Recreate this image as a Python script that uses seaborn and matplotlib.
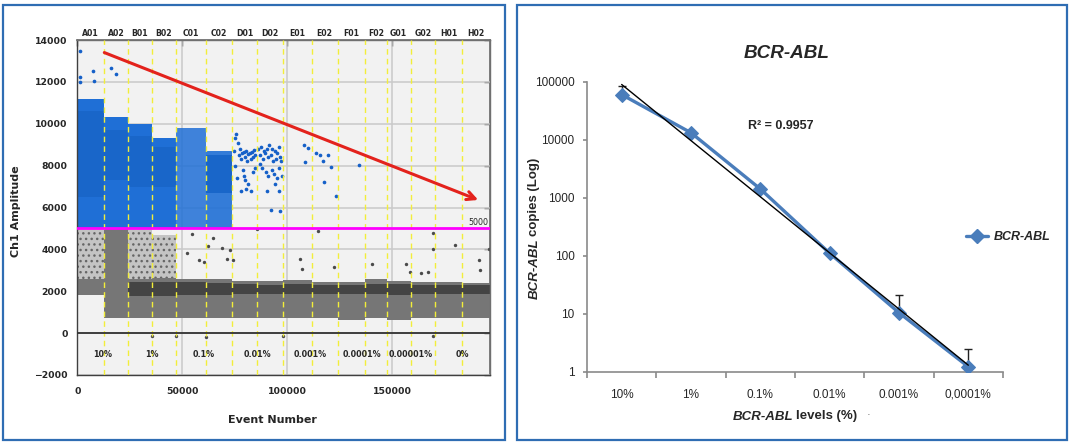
import numpy as np
import matplotlib
matplotlib.use("Agg")
import matplotlib.pyplot as plt
import seaborn as sns
from matplotlib.patches import Rectangle
from matplotlib.lines import Line2D
from matplotlib.ticker import NullLocator, FixedLocator, FixedFormatter

nan = np.nan

# ---------------- Left panel data (ddPCR droplet amplitude plot) ----------------
well_names = ['A01', 'A02', 'B01', 'B02', 'C01', 'C02', 'D01', 'D02',
              'E01', 'E02', 'F01', 'F02', 'G01', 'G02', 'H01', 'H02']
well_edges = [0, 12857, 24127, 35550, 46980, 61420, 73800, 85400, 97900,
              111570, 123950, 137000, 147300, 158700, 170300, 183100, 196500]
dilution_labels = ['10%', '1%', '0.1%', '0.01%', '0.001%', '0.0001%', '0.00001%', '0%']
threshold = 5000
threshold_label = '5000'

# dense positive droplet clouds (blue) per well
pos_low = [5000, 5000, 5000, 5000, 5000, 5000] + [nan] * 10
pos_high = [11200, 10300, 10000, 9300, 9800, 8700] + [nan] * 10
pos_density = [1.0, 1.0, 1.0, 1.0, 0.85, 0.9] + [nan] * 10
pos_core_low = [6500, 7300, 7000, 7000, nan, 6700] + [nan] * 10
pos_core_high = [10600, 9700, 9400, 8900, nan, 8500] + [nan] * 10

# negative droplet clouds (grey) per well
neg_low = [1800, 700, 700, 700, 700, 700, 700, 700, 700, 700, 650, 700, 650, 700, 700, 700]
neg_high = [2600, 5000, 2600, 2650, 2600, 2600, 2500, 2500, 2550, 2450, 2450, 2600, 2500, 2450, 2450, 2400]
neg_core_low = [nan, nan, 1750, 1750, 1800, 1800, 1850, 1850, 1850, 1850, 1850, 1850, 1800, 1850, 1850, 1850]
neg_core_high = [nan, nan, 2450, 2450, 2450, 2400, 2350, 2300, 2350, 2300, 2300, 2350, 2350, 2300, 2300, 2300]
speckle_low = [2600, nan, 2600, 2650] + [nan] * 12
speckle_high = [5000, nan, 5000, 4700] + [nan] * 12

# isolated positive droplets
pos_pts_x = [1270, 1270, 1300, 7300, 8100, 16200, 18250,
             74500, 75200, 75800, 76500, 77000, 77500, 78000, 78500, 79200, 79800, 80300, 80800,
             81300, 82000, 82500, 83000, 83500, 84200, 84800, 76200, 78800, 79500, 80000, 81500,
             80500, 77800, 82800, 83800, 75000, 84500,
             86000, 86800, 87500, 88200, 88800, 89500, 90200, 90800, 91500, 92200, 92800, 93400,
             94000, 94600, 95200, 95800, 96500, 97000, 88000, 89800, 91000, 92500, 93800, 95000,
             96200, 94200, 90500, 96000, 92000, 96600, 87200, 97300,
             108070, 109980, 108390,
             113470, 115530, 119500, 117120, 120610, 117440, 122990,
             134100]
pos_pts_y = [13480, 12240, 12000, 12520, 12050, 12670, 12400,
             8700, 9300, 9500, 9100, 8500, 8800, 8300, 8600, 8650, 8400, 8700, 8200,
             8550, 8600, 8300, 8650, 8400, 8750, 8500, 7400, 7800, 7500, 7300, 7100,
             6900, 6800, 6800, 7700, 8000, 7900,
             8800, 8500, 8900, 8300, 8700, 8600, 8800, 8400, 9000, 8500, 8800, 8200,
             8700, 8300, 8600, 8900, 8400, 8200, 7900, 7700, 7500, 7800, 7600, 7400,
             7900, 7100, 6800, 6800, 5900, 5850, 8100, 7500,
             8990, 8820, 8160,
             8610, 8500, 8500, 8210, 7950, 7220, 6560,
             8030]

# isolated negative / rain droplets
neg_pts_x = [52000, 54400, 57900, 60400, 62400, 64700, 69000, 71100, 72700, 74300,
             85700, 106000, 106800, 114700, 122400, 140400, 156300, 158400, 163600, 166800,
             169500, 179800, 191200, 191700, 196000, 169500,
             35400, 46800, 61100, 98100, 169500]
neg_pts_y = [3840, 4720, 3490, 3390, 4160, 4560, 4080, 3520, 3970, 3490,
             4990, 3520, 3040, 4880, 3170, 3280, 3280, 2930, 2850, 2930,
             4800, 4190, 3490, 3010, 4030, 4030,
             -130, -160, -190, -160, -160]

arrow_start = (12857, 13400)
arrow_end = (190900, 6360)

# ---------------- Right panel data (standard curve) ----------------
levels = ['10%', '1%', '0.1%', '0.01%', '0.001%', '0,0001%']
copies = [60000, 13200, 1420, 111, 10.5, 1.23]
copies_err_up = [25000, 0, 0, 0, 10.7, 1.23]
r2_text = 'R\u00b2 = 0.9957'
y_ticks = [1, 10, 100, 1000, 10000, 100000]

# ---------------- Figure ----------------
sns.set_theme(style="white")
plt.rcParams['font.family'] = ['DejaVu Sans']
plt.rcParams['hatch.linewidth'] = 1.0

W, H = 1076, 445
fig = plt.figure(figsize=(W / 100, H / 100), dpi=100)
fig.patch.set_facecolor('white')


def fx(px):
    return px / W


def fy(py):
    return 1 - py / H


border_col = '#2f6db3'
fig.patches.append(Rectangle((fx(3), fy(440)), fx(505) - fx(3), fy(5) - fy(440),
                             transform=fig.transFigure, fill=False, ec=border_col, lw=1.6))
fig.patches.append(Rectangle((fx(517), fy(440)), fx(1067) - fx(517), fy(5) - fy(440),
                             transform=fig.transFigure, fill=False, ec=border_col, lw=1.6))

# ---- left axes ----
ax = fig.add_axes([fx(77.3), fy(375), fx(490) - fx(77.3), fy(40) - fy(375)])
ax.set_facecolor('#f2f2f2')
ax.set_xlim(0, 196500)
ax.set_ylim(-2000, 14000)
yt = np.arange(-2000, 14001, 2000)
xtk = [0, 50000, 100000, 150000]
ax.set_yticks(yt)
ax.set_xticks(xtk)
ax.grid(True, color='#c9c9c9', lw=1.1, zorder=0.5)
ax.set_axisbelow(True)
for s in ax.spines.values():
    s.set_color('#707070')
    s.set_linewidth(1.0)
ax.spines['left'].set_color('#404040')
ax.spines['bottom'].set_color('#404040')
ax.tick_params(axis='both', which='major', direction='out', length=4, width=1,
               color='#404040', labelsize=6.7, pad=3)
ax.tick_params(axis='x', pad=5)
for lab in ax.get_xticklabels() + ax.get_yticklabels():
    lab.set_fontweight('bold')
sec_y = ax.secondary_yaxis('right')
sec_y.set_yticks(yt)
sec_y.tick_params(direction='in', length=4, width=1, color='#404040', labelright=False)
sec_y.spines['right'].set_color('#707070')
sec_x = ax.secondary_xaxis('top')
sec_x.set_xticks(xtk)
sec_x.tick_params(direction='in', length=4, width=1, color='#404040', labeltop=False)
sec_x.spines['top'].set_color('#707070')

edges = np.array(well_edges, dtype=float)
lefts = edges[:-1]
widths = np.diff(edges)


def bars(low, high, **kw):
    low = np.array(low, dtype=float)
    high = np.array(high, dtype=float)
    m = ~np.isnan(low)
    ax.bar(lefts[m], (high - low)[m], bottom=low[m], width=widths[m], align='edge',
           linewidth=0, **kw)


# negative clouds
bars(neg_low, neg_high, color='#767676', zorder=2)
bars(neg_core_low, neg_core_high, color='#444444', zorder=2.1)
bars(speckle_low, speckle_high, facecolor='#c4c4c4', edgecolor='#666666', hatch='...', zorder=2)
# positive clouds
pl = np.array(pos_low, float)
ph = np.array(pos_high, float)
pd_ = np.array(pos_density, float)
for i in range(len(well_names)):
    if not np.isnan(pl[i]):
        ax.bar(lefts[i], ph[i] - pl[i], bottom=pl[i], width=widths[i], align='edge',
               color='#1f6fd6', alpha=pd_[i], linewidth=0, zorder=2)
bars(pos_core_low, pos_core_high, color='#1966c9', zorder=2.1)

sns.scatterplot(x=pos_pts_x, y=pos_pts_y, ax=ax, color='#1560c8', s=7, linewidth=0, zorder=2.5)
sns.scatterplot(x=neg_pts_x, y=neg_pts_y, ax=ax, color='#4a4a4a', s=6, linewidth=0, zorder=2.5)

# well boundaries
for e in well_edges[1:-1]:
    ax.axvline(e, color='#f2ee3a', lw=1.0, ls=(0, (4, 3)), zorder=3)
ax.axhline(0, color='#333333', lw=1.3, zorder=3.2)
ax.axhline(threshold, color='#ff00ff', lw=2.0, zorder=4)
ax.text(195500, threshold + 80, threshold_label, ha='right', va='bottom', fontsize=5.7, zorder=6)

ax.annotate('', xy=arrow_end, xytext=arrow_start,
            arrowprops=dict(arrowstyle='->', color='#e3221c', lw=2.2, mutation_scale=15,
                            shrinkA=0, shrinkB=0), zorder=5)

xt = ax.get_xaxis_transform()
for i, name in enumerate(well_names):
    ax.text((edges[i] + edges[i + 1]) / 2, 1.006, name, transform=xt, ha='center', va='bottom',
            fontsize=5.6, fontweight='bold')
for k, lab in enumerate(dilution_labels):
    ax.text((edges[2 * k] + edges[2 * k + 2]) / 2, -1000, lab, ha='center', va='center',
            fontsize=5.8, fontweight='bold', zorder=6)

ax.set_ylabel('Ch1 Amplitude', fontsize=8, fontweight='bold')
ax.set_xlabel('Event Number', fontsize=8, fontweight='bold')
ax.yaxis.set_label_coords((21 - 77.3) / 412.7, 0.49)
ax.xaxis.set_label_coords(0.472, -0.119)

# ---- right axes ----
arial = 'Liberation Sans'
ax2 = fig.add_axes([fx(587), fy(372), fx(1003) - fx(587), fy(81.7) - fy(372)])
ax2.set_facecolor('white')
ax2.set_yscale('log')
ax2.set_ylim(1, 100000)
ax2.set_xlim(-0.5, 5.5)
x_idx = np.arange(len(levels))
line_col = '#4a7dbb'

ax2.errorbar(x_idx, copies, yerr=[np.zeros(len(copies)), copies_err_up], fmt='none',
             ecolor='#222222', elinewidth=1.0, capsize=3, capthick=1.0, zorder=2)
sns.lineplot(x=x_idx, y=copies, ax=ax2, color=line_col, lw=2.4, marker='D', markersize=7.5,
             markeredgecolor=line_col, zorder=3, legend=False)
coef = np.polyfit(x_idx, np.log10(copies), 1)
xs = np.array([x_idx[0], x_idx[-1]], dtype=float)
ax2.plot(xs, 10 ** np.polyval(coef, xs), color='black', lw=1.0, zorder=4)

for s in ['top', 'right']:
    ax2.spines[s].set_visible(False)
for s in ['left', 'bottom']:
    ax2.spines[s].set_color('#8a8a8a')
    ax2.spines[s].set_linewidth(1.2)
ax2.yaxis.set_major_locator(FixedLocator(y_ticks))
ax2.yaxis.set_major_formatter(FixedFormatter([str(v) for v in y_ticks]))
ax2.yaxis.set_minor_locator(NullLocator())
ax2.tick_params(axis='y', which='major', direction='out', length=3, width=1.2, color='#8a8a8a',
                labelsize=8.5, pad=6, left=True)
ax2.xaxis.set_major_locator(FixedLocator(np.arange(-0.5, 5.6, 1.0)))
ax2.xaxis.set_major_formatter(FixedFormatter([''] * 7))
ax2.xaxis.set_minor_locator(FixedLocator(x_idx))
ax2.xaxis.set_minor_formatter(FixedFormatter(levels))
ax2.tick_params(axis='x', which='major', direction='out', length=4, width=1.2, color='#8a8a8a',
                bottom=True)
ax2.tick_params(axis='x', which='minor', length=0, labelsize=8.5, pad=12, bottom=True)
for lab in ax2.get_xticklabels(minor=True) + ax2.get_yticklabels():
    lab.set_fontfamily(arial)
ax2.grid(False)

ax2.text(2.30, 17260, r2_text, ha='center', va='center', fontsize=9, fontweight='bold',
         family=arial)

fig.text(fx(787), fy(54), 'BCR-ABL', ha='center', va='center', fontsize=13.6,
         fontweight='bold', fontstyle='italic', family=arial)

handle = Line2D([], [], color=line_col, lw=2.4, marker='D', markersize=7.5, markeredgecolor=line_col)
leg = ax2.legend([handle], ['BCR-ABL'], loc='center left', bbox_to_anchor=(fx(955), fy(237)),
                 bbox_transform=fig.transFigure, frameon=False, handlelength=1.7,
                 handletextpad=0.5, prop=dict(family=arial, weight='bold', style='italic', size=9))

# mixed-style axis labels
renderer = fig.canvas.get_renderer()


def mixed_text(pieces, cx, cy, rotation, size, gap):
    ws = []
    for s, st in pieces:
        t = fig.text(0, 0, s, fontsize=size, fontweight='bold', fontstyle=st, family=arial)
        ws.append(t.get_window_extent(renderer).width)
        t.remove()
    total = sum(ws) + gap * (len(pieces) - 1)
    pos = -total / 2
    for (s, st), w in zip(pieces, ws):
        if rotation == 0:
            x, y = cx + pos, cy
        else:
            x, y = cx, cy - pos
        fig.text(fx(x), fy(y), s, fontsize=size, fontweight='bold', fontstyle=st, family=arial,
                 rotation=rotation, rotation_mode='anchor', ha='left', va='center_baseline')
        pos += w + gap


mixed_text([('BCR-ABL', 'italic'), ('copies (Log)', 'normal')], 533, 228, 90, 9.5, 2.5)
mixed_text([('BCR-ABL', 'italic'), ('levels (%)', 'normal')], 795, 415, 0, 9.5, 2.5)
fig.text(fx(868), fy(415), '\u00b7', ha='center', va='center', fontsize=8, color='#555555',
         family=arial)

fig.savefig('out.png', dpi=100)
